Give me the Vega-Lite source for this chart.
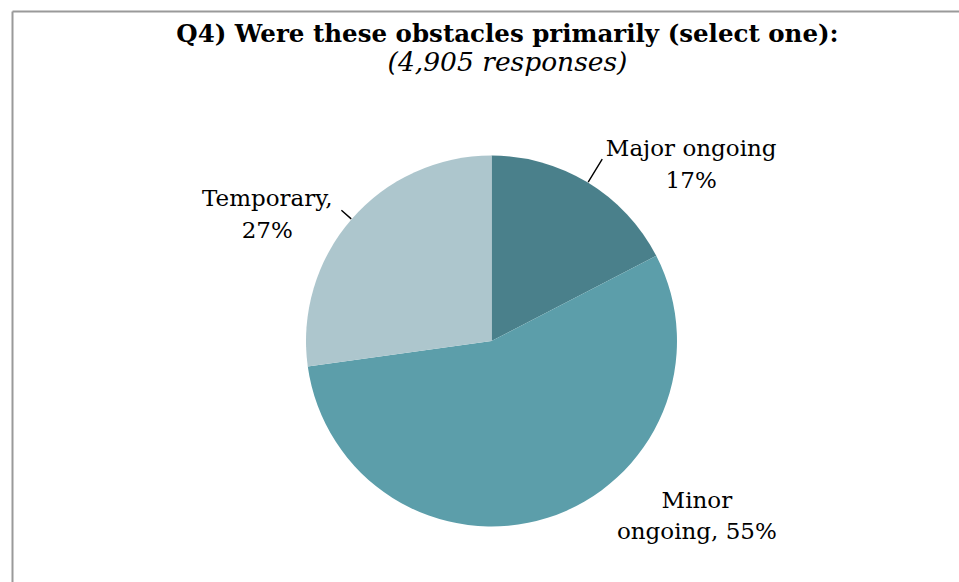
{
  "$schema": "https://vega.github.io/schema/vega-lite/v6.json",
  "usermeta": {"embedOptions": {"actions": false}},
  "autosize": {"type": "none"},
  "width": 959,
  "height": 660,
  "padding": {"left": 12, "top": 11, "right": -12, "bottom": -89},
  "background": "white",
  "view": {"stroke": null},
  "config": {
    "font": "DejaVu Serif",
    "view": {"stroke": null},
    "axis": {"domain": true, "domainColor": "#9a9a9a", "domainWidth": 2, "ticks": false, "labels": false, "grid": false, "title": null}
  },
  "title": {
    "text": "Q4) Were these obstacles primarily (select one):",
    "subtitle": "(4,905 responses)",
    "anchor": "middle",
    "frame": "group",
    "offset": -66,
    "dx": 16,
    "font": "DejaVu Serif",
    "fontSize": 24.5,
    "fontWeight": "bold",
    "color": "black",
    "subtitleFont": "DejaVu Serif",
    "subtitleFontSize": 26.5,
    "subtitleFontStyle": "italic",
    "subtitleColor": "black",
    "subtitlePadding": 2
  },
  "data": {
    "values": [
      {"category": "Major ongoing", "value": 17.4, "label": "Major ongoing\n17%"},
      {"category": "Minor ongoing", "value": 55.4, "label": "Minor\nongoing, 55%"},
      {"category": "Temporary", "value": 27.2, "label": "Temporary,\n27%"}
    ]
  },
  "layer": [
    {
      "mark": {"type": "arc", "radius": 185.5},
      "encoding": {
        "x": {"datum": 0.5, "type": "quantitative", "scale": {"domain": [0, 1]}, "axis": {"orient": "top"}},
        "y": {"datum": 0.5, "type": "quantitative", "scale": {"domain": [0, 1]}, "axis": {"orient": "left"}},
        "theta": {"field": "value", "type": "quantitative", "stack": true, "scale": {"domain": [0, 100]}},
        "color": {
          "field": "category",
          "type": "nominal",
          "scale": {"domain": ["Major ongoing", "Minor ongoing", "Temporary"], "range": ["#4a808b", "#5c9eaa", "#adc6cd"]},
          "legend": null
        }
      }
    },
    {
      "transform": [
        {"stack": "value", "groupby": [], "sort": [{"field": "category", "order": "ascending"}], "as": ["v0", "v1"]},
        {"filter": "datum.category === 'Major ongoing'"}
      ],
      "mark": {"type": "arc", "outerRadius": 213, "innerRadius": 186, "padAngle": 3, "stroke": "black", "strokeWidth": 1.4, "fill": "black"},
      "encoding": {"theta": {"field": "v0", "type": "quantitative"}, "theta2": {"field": "v1"}}
    },
    {
      "transform": [
        {"stack": "value", "groupby": [], "sort": [{"field": "category", "order": "ascending"}], "as": ["v0", "v1"]},
        {"filter": "datum.category === 'Temporary'"}
      ],
      "mark": {"type": "arc", "outerRadius": 199, "innerRadius": 186, "padAngle": 3, "stroke": "black", "strokeWidth": 1.4, "fill": "black"},
      "encoding": {"theta": {"field": "v0", "type": "quantitative"}, "theta2": {"field": "v1"}}
    },
    {
      "mark": {"type": "text", "radius": 186, "dx": 103, "dy": -33, "align": "center", "baseline": "middle", "lineBreak": "\n", "lineHeight": 32, "font": "DejaVu Serif", "fontSize": 23, "color": "black"},
      "encoding": {
        "theta": {"field": "value", "type": "quantitative", "stack": true},
        "order": {"field": "category"},
        "text": {"condition": {"test": "datum.category === 'Major ongoing'", "field": "label"}, "value": ""}
      }
    },
    {
      "mark": {"type": "text", "radius": 186, "dx": 149, "dy": -17, "align": "center", "baseline": "middle", "lineBreak": "\n", "lineHeight": 31, "font": "DejaVu Serif", "fontSize": 23, "color": "black"},
      "encoding": {
        "theta": {"field": "value", "type": "quantitative", "stack": true},
        "order": {"field": "category"},
        "text": {"condition": {"test": "datum.category === 'Minor ongoing'", "field": "label"}, "value": ""}
      }
    },
    {
      "mark": {"type": "text", "radius": 186, "dx": -84, "dy": -20, "align": "center", "baseline": "middle", "lineBreak": "\n", "lineHeight": 32, "font": "DejaVu Serif", "fontSize": 23, "color": "black"},
      "encoding": {
        "theta": {"field": "value", "type": "quantitative", "stack": true},
        "order": {"field": "category"},
        "text": {"condition": {"test": "datum.category === 'Temporary'", "field": "label"}, "value": ""}
      }
    }
  ]
}
